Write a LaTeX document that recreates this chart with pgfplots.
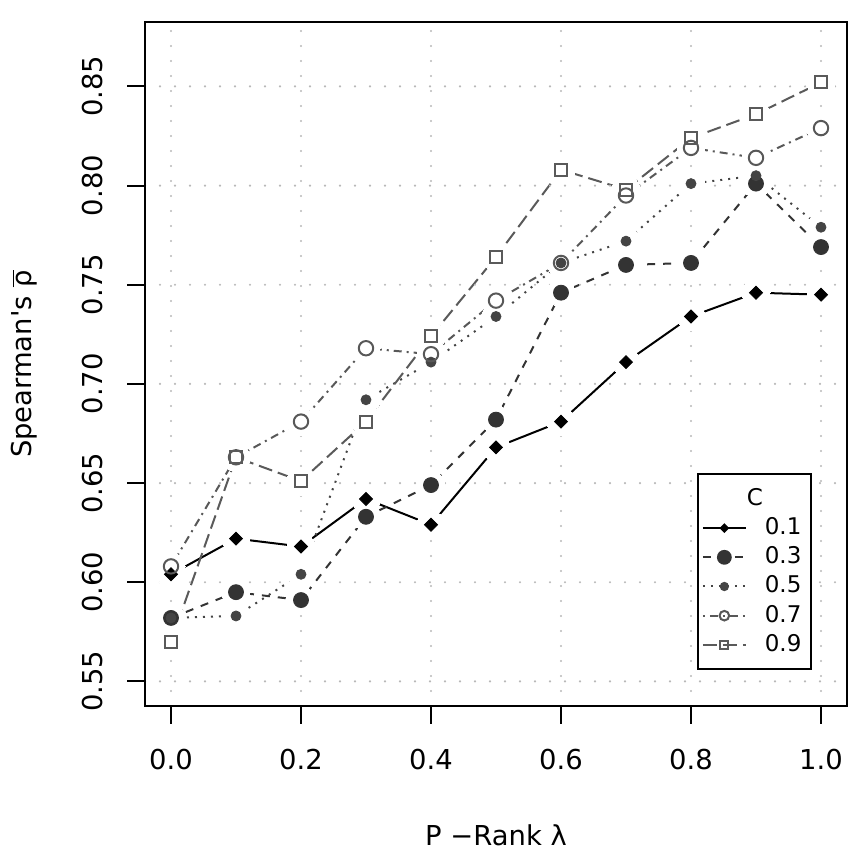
\documentclass[border=0pt]{standalone}
\usepackage{fontspec}
\setmainfont{DejaVu Sans}
\newfontfamily\nomap{DejaVu Sans}
\usepackage{pgfplots}
\usepackage{pgfplotstable}
\pgfplotsset{compat=1.18}
\definecolor{c1}{gray}{0}
\definecolor{c3}{HTML}{333333}
\definecolor{c5}{HTML}{444444}
\definecolor{c7}{HTML}{585858}
\definecolor{c9}{HTML}{5A5A5A}
\definecolor{gridc}{gray}{0.72}
\newcommand{\chartfont}{\fontsize{13.7}{16}\selectfont}
\newcommand{\legfont}{\fontsize{11.5}{13.5}\selectfont}
\pgfplotstableread{
x   s1    s3    s5    s7    s9
0.0 0.604 0.582 0.582 0.608 0.570
0.1 0.622 0.595 0.583 0.663 0.663
0.2 0.618 0.591 0.604 0.681 0.651
0.3 0.642 0.633 0.692 0.718 0.681
0.4 0.629 0.649 0.711 0.715 0.724
0.5 0.668 0.682 0.734 0.742 0.764
0.6 0.681 0.746 0.761 0.761 0.808
0.7 0.711 0.760 0.772 0.795 0.798
0.8 0.734 0.761 0.801 0.819 0.824
0.9 0.746 0.801 0.805 0.814 0.836
1.0 0.745 0.769 0.779 0.829 0.852
}\data
\begin{document}
\chartfont
\begin{tikzpicture}
\path[use as bounding box] (0,0) rectangle (429.5pt,430pt);
\begin{axis}[
  axis on top,
  at={(72.5pt,77pt)}, anchor=south west,
  scale only axis, width=351pt, height=342pt,
  xmin=-0.04, xmax=1.04, ymin=0.5376, ymax=0.8825,
  xtick={0,0.2,0.4,0.6,0.8,1.0},
  xticklabels={0.0,0.2,0.4,0.6,0.8,1.0},
  ytick={0.55,0.60,0.65,0.70,0.75,0.80,0.85},
  yticklabels={0.55,0.60,0.65,0.70,0.75,0.80,0.85},
  tick pos=left, tick align=outside, major tick length=9pt,
  tick style={black, line width=1pt},
  axis line style={black, line width=1pt},
  grid=major,
  major grid style={gridc, line width=1.2pt, line cap=round, dash pattern=on 0pt off 7.5pt},
  tick label style={font=\chartfont},
  xticklabel style={anchor=north, inner sep=0pt},
  yticklabel style={rotate=90, anchor=south, inner sep=0pt},
  xticklabel shift=12.5pt,
  yticklabel shift=12pt,
  xlabel={P −Rank λ},
  ylabel={{\nomap Spearman's} $\overline{\mbox{ρ}}$},
  label style={font=\chartfont},
  xlabel style={at={(axis description cs:0.5,0)}, anchor=base, yshift=-70pt},
  ylabel style={at={(axis description cs:0,0.5)}, anchor=base, yshift=56.5pt},
  legend image code/.code={\draw[mark repeat=2,mark phase=2] plot coordinates {(0pt,0pt)(10.75pt,0pt)(21.5pt,0pt)};},
  legend cell align=left,
  legend style={at={(axis cs:0.809,0.6549)}, anchor=north west, draw=black, line width=1pt, fill=white,
    inner xsep=2pt, inner ysep=7pt, row sep=4pt, column sep=9pt, nodes={inner sep=0pt}, font=\legfont},
]
% lines
\addplot[forget plot, c1, line width=1pt] table[x=x,y=s1]{\data};
\addplot[forget plot, c3, line width=1pt, dash pattern=on 4pt off 4pt] table[x=x,y=s3]{\data};
\addplot[forget plot, c5, line width=1pt, dash pattern=on 1pt off 3pt] table[x=x,y=s5]{\data};
\addplot[forget plot, c7, line width=1pt, dash pattern=on 1pt off 2.5pt on 4pt off 2.5pt] table[x=x,y=s7]{\data};
\addplot[forget plot, c9, line width=1pt, dash pattern=on 7pt off 3pt] table[x=x,y=s9]{\data};
% gaps around points (R type "b")
\addplot[forget plot, white, only marks, mark=*, mark size=7pt, mark options={fill=white, draw=white, line width=0pt}] table[x=x,y=s1]{\data};
\addplot[forget plot, white, only marks, mark=*, mark size=7pt, mark options={fill=white, draw=white, line width=0pt}] table[x=x,y=s3]{\data};
\addplot[forget plot, white, only marks, mark=*, mark size=7pt, mark options={fill=white, draw=white, line width=0pt}] table[x=x,y=s5]{\data};
\addplot[forget plot, white, only marks, mark=*, mark size=7pt, mark options={fill=white, draw=white, line width=0pt}] table[x=x,y=s7]{\data};
\addplot[forget plot, white, only marks, mark=*, mark size=7pt, mark options={fill=white, draw=white, line width=0pt}] table[x=x,y=s9]{\data};
% marks
\addplot[forget plot, c1, only marks, mark=square*, mark size=2.3pt, mark options={rotate=45, fill=c1, draw=c1}] table[x=x,y=s1]{\data};
\addplot[forget plot, c3, only marks, mark=*, mark size=3.75pt, mark options={fill=c3, draw=c3}] table[x=x,y=s3]{\data};
\addplot[forget plot, c5, only marks, mark=*, mark size=2.5pt, mark options={fill=c5, draw=c5}] table[x=x,y=s5]{\data};
\addplot[forget plot, c7, only marks, mark=o, mark size=3.6pt, mark options={draw=c7, line width=1pt}] table[x=x,y=s7]{\data};
\addplot[forget plot, c9, only marks, mark=square, mark size=3pt, mark options={draw=c9, line width=1pt}] table[x=x,y=s9]{\data};
% legend
\addlegendimage{empty legend}
\addlegendentry{\kern-11pt C\rule[-5pt]{0pt}{0pt}}
\addlegendimage{c1, line width=1pt, mark=square*, mark size=1.25pt, mark options={rotate=45, solid, fill=c1}}
\addlegendentry{0.1\hspace{3pt}}
\addlegendimage{c3, line width=1pt, dash pattern=on 4pt off 4pt, mark=*, mark size=3.2pt, mark options={solid, fill=c3}}
\addlegendentry{0.3\hspace{3pt}}
\addlegendimage{c5, line width=1pt, dash pattern=on 1pt off 3pt, mark=*, mark size=1.8pt, mark options={solid, fill=c5}}
\addlegendentry{0.5\hspace{3pt}}
\addlegendimage{c7, line width=1pt, dash pattern=on 1pt off 2.5pt on 4pt off 2.5pt, mark=o, mark size=2.4pt, mark options={solid, fill=white}}
\addlegendentry{0.7\hspace{3pt}}
\addlegendimage{c9, line width=1pt, dash pattern=on 7pt off 3pt, mark=square, mark size=2pt, mark options={solid, fill=white}}
\addlegendentry{0.9\hspace{3pt}\rule[-3.5pt]{0pt}{0pt}}
\end{axis}
\end{tikzpicture}
\end{document}
